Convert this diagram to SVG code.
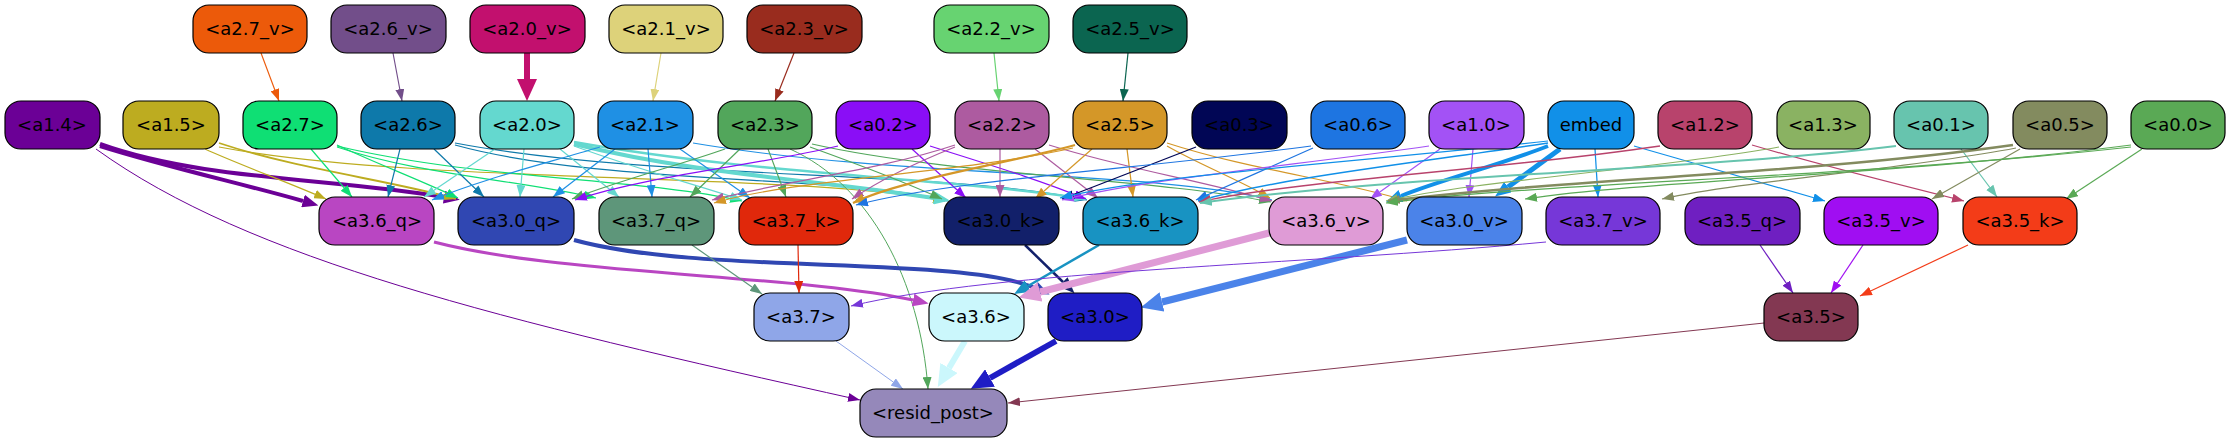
<svg xmlns="http://www.w3.org/2000/svg" width="2233" height="443" viewBox="0 0 2233 443">
<style>
.node rect{stroke:#000;stroke-width:1.2}
.node text{font-family:"DejaVu Sans","Liberation Sans",sans-serif;font-size:18px;fill:#000;text-anchor:middle}
#edges path{fill:none;stroke-width:1.2}
</style>
<defs>
<marker id="t-27v" viewBox="0 0 12 9" refX="12" refY="4.5" markerWidth="12" markerHeight="9" markerUnits="userSpaceOnUse" orient="auto"><path d="M0,0L12,4.5L0,9z" fill="#ec5a0a"/></marker>
<marker id="t-26v" viewBox="0 0 12 9" refX="12" refY="4.5" markerWidth="12" markerHeight="9" markerUnits="userSpaceOnUse" orient="auto"><path d="M0,0L12,4.5L0,9z" fill="#724e8a"/></marker>
<marker id="t-21v" viewBox="0 0 12 9" refX="12" refY="4.5" markerWidth="12" markerHeight="9" markerUnits="userSpaceOnUse" orient="auto"><path d="M0,0L12,4.5L0,9z" fill="#ddd27a"/></marker>
<marker id="t-23v" viewBox="0 0 12 9" refX="12" refY="4.5" markerWidth="12" markerHeight="9" markerUnits="userSpaceOnUse" orient="auto"><path d="M0,0L12,4.5L0,9z" fill="#992c1e"/></marker>
<marker id="t-22v" viewBox="0 0 12 9" refX="12" refY="4.5" markerWidth="12" markerHeight="9" markerUnits="userSpaceOnUse" orient="auto"><path d="M0,0L12,4.5L0,9z" fill="#67d371"/></marker>
<marker id="t-25v" viewBox="0 0 12 9" refX="12" refY="4.5" markerWidth="12" markerHeight="9" markerUnits="userSpaceOnUse" orient="auto"><path d="M0,0L12,4.5L0,9z" fill="#0b6550"/></marker>
<marker id="t-14" viewBox="0 0 12 9" refX="12" refY="4.5" markerWidth="12" markerHeight="9" markerUnits="userSpaceOnUse" orient="auto"><path d="M0,0L12,4.5L0,9z" fill="#6b0096"/></marker>
<marker id="t-15" viewBox="0 0 12 9" refX="12" refY="4.5" markerWidth="12" markerHeight="9" markerUnits="userSpaceOnUse" orient="auto"><path d="M0,0L12,4.5L0,9z" fill="#bdac20"/></marker>
<marker id="t-27" viewBox="0 0 12 9" refX="12" refY="4.5" markerWidth="12" markerHeight="9" markerUnits="userSpaceOnUse" orient="auto"><path d="M0,0L12,4.5L0,9z" fill="#0fdf74"/></marker>
<marker id="t-26" viewBox="0 0 12 9" refX="12" refY="4.5" markerWidth="12" markerHeight="9" markerUnits="userSpaceOnUse" orient="auto"><path d="M0,0L12,4.5L0,9z" fill="#0e79aa"/></marker>
<marker id="t-20" viewBox="0 0 12 9" refX="12" refY="4.5" markerWidth="12" markerHeight="9" markerUnits="userSpaceOnUse" orient="auto"><path d="M0,0L12,4.5L0,9z" fill="#64d8cf"/></marker>
<marker id="t-21" viewBox="0 0 12 9" refX="12" refY="4.5" markerWidth="12" markerHeight="9" markerUnits="userSpaceOnUse" orient="auto"><path d="M0,0L12,4.5L0,9z" fill="#1f90e4"/></marker>
<marker id="t-23" viewBox="0 0 12 9" refX="12" refY="4.5" markerWidth="12" markerHeight="9" markerUnits="userSpaceOnUse" orient="auto"><path d="M0,0L12,4.5L0,9z" fill="#52a65b"/></marker>
<marker id="t-02" viewBox="0 0 12 9" refX="12" refY="4.5" markerWidth="12" markerHeight="9" markerUnits="userSpaceOnUse" orient="auto"><path d="M0,0L12,4.5L0,9z" fill="#8a0ef6"/></marker>
<marker id="t-22" viewBox="0 0 12 9" refX="12" refY="4.5" markerWidth="12" markerHeight="9" markerUnits="userSpaceOnUse" orient="auto"><path d="M0,0L12,4.5L0,9z" fill="#ad5ba0"/></marker>
<marker id="t-25" viewBox="0 0 12 9" refX="12" refY="4.5" markerWidth="12" markerHeight="9" markerUnits="userSpaceOnUse" orient="auto"><path d="M0,0L12,4.5L0,9z" fill="#d49728"/></marker>
<marker id="t-03" viewBox="0 0 12 9" refX="12" refY="4.5" markerWidth="12" markerHeight="9" markerUnits="userSpaceOnUse" orient="auto"><path d="M0,0L12,4.5L0,9z" fill="#010655"/></marker>
<marker id="t-06" viewBox="0 0 12 9" refX="12" refY="4.5" markerWidth="12" markerHeight="9" markerUnits="userSpaceOnUse" orient="auto"><path d="M0,0L12,4.5L0,9z" fill="#1e75e1"/></marker>
<marker id="t-10" viewBox="0 0 12 9" refX="12" refY="4.5" markerWidth="12" markerHeight="9" markerUnits="userSpaceOnUse" orient="auto"><path d="M0,0L12,4.5L0,9z" fill="#a352f5"/></marker>
<marker id="t-emb" viewBox="0 0 12 9" refX="12" refY="4.5" markerWidth="12" markerHeight="9" markerUnits="userSpaceOnUse" orient="auto"><path d="M0,0L12,4.5L0,9z" fill="#1190e8"/></marker>
<marker id="t-12" viewBox="0 0 12 9" refX="12" refY="4.5" markerWidth="12" markerHeight="9" markerUnits="userSpaceOnUse" orient="auto"><path d="M0,0L12,4.5L0,9z" fill="#b8436c"/></marker>
<marker id="t-13" viewBox="0 0 12 9" refX="12" refY="4.5" markerWidth="12" markerHeight="9" markerUnits="userSpaceOnUse" orient="auto"><path d="M0,0L12,4.5L0,9z" fill="#8ab262"/></marker>
<marker id="t-01" viewBox="0 0 12 9" refX="12" refY="4.5" markerWidth="12" markerHeight="9" markerUnits="userSpaceOnUse" orient="auto"><path d="M0,0L12,4.5L0,9z" fill="#67c4ae"/></marker>
<marker id="t-05" viewBox="0 0 12 9" refX="12" refY="4.5" markerWidth="12" markerHeight="9" markerUnits="userSpaceOnUse" orient="auto"><path d="M0,0L12,4.5L0,9z" fill="#838b5f"/></marker>
<marker id="t-00" viewBox="0 0 12 9" refX="12" refY="4.5" markerWidth="12" markerHeight="9" markerUnits="userSpaceOnUse" orient="auto"><path d="M0,0L12,4.5L0,9z" fill="#5aa955"/></marker>
<marker id="t-37q" viewBox="0 0 12 9" refX="12" refY="4.5" markerWidth="12" markerHeight="9" markerUnits="userSpaceOnUse" orient="auto"><path d="M0,0L12,4.5L0,9z" fill="#5e967a"/></marker>
<marker id="t-37k" viewBox="0 0 12 9" refX="12" refY="4.5" markerWidth="12" markerHeight="9" markerUnits="userSpaceOnUse" orient="auto"><path d="M0,0L12,4.5L0,9z" fill="#e0280b"/></marker>
<marker id="t-37v" viewBox="0 0 12 9" refX="12" refY="4.5" markerWidth="12" markerHeight="9" markerUnits="userSpaceOnUse" orient="auto"><path d="M0,0L12,4.5L0,9z" fill="#7637d8"/></marker>
<marker id="t-35q" viewBox="0 0 12 9" refX="12" refY="4.5" markerWidth="12" markerHeight="9" markerUnits="userSpaceOnUse" orient="auto"><path d="M0,0L12,4.5L0,9z" fill="#6f1fc1"/></marker>
<marker id="t-35v" viewBox="0 0 12 9" refX="12" refY="4.5" markerWidth="12" markerHeight="9" markerUnits="userSpaceOnUse" orient="auto"><path d="M0,0L12,4.5L0,9z" fill="#a00ef2"/></marker>
<marker id="t-35k" viewBox="0 0 12 9" refX="12" refY="4.5" markerWidth="12" markerHeight="9" markerUnits="userSpaceOnUse" orient="auto"><path d="M0,0L12,4.5L0,9z" fill="#f33c18"/></marker>
<marker id="t-37" viewBox="0 0 12 9" refX="12" refY="4.5" markerWidth="12" markerHeight="9" markerUnits="userSpaceOnUse" orient="auto"><path d="M0,0L12,4.5L0,9z" fill="#8fa6e8"/></marker>
<marker id="t-35" viewBox="0 0 12 9" refX="12" refY="4.5" markerWidth="12" markerHeight="9" markerUnits="userSpaceOnUse" orient="auto"><path d="M0,0L12,4.5L0,9z" fill="#833852"/></marker>
<marker id="m-14" viewBox="0 0 16 13" refX="0" refY="6.5" markerWidth="16" markerHeight="13" markerUnits="userSpaceOnUse" orient="auto"><path d="M0,0L16,6.5L0,13z" fill="#6b0096"/></marker>
<marker id="m-20" viewBox="0 0 16 13" refX="0" refY="6.5" markerWidth="16" markerHeight="13" markerUnits="userSpaceOnUse" orient="auto"><path d="M0,0L16,6.5L0,13z" fill="#64d8cf"/></marker>
<marker id="m-emb" viewBox="0 0 16 13" refX="0" refY="6.5" markerWidth="16" markerHeight="13" markerUnits="userSpaceOnUse" orient="auto"><path d="M0,0L16,6.5L0,13z" fill="#1190e8"/></marker>
<marker id="m-36q" viewBox="0 0 16 13" refX="0" refY="6.5" markerWidth="16" markerHeight="13" markerUnits="userSpaceOnUse" orient="auto"><path d="M0,0L16,6.5L0,13z" fill="#b946c2"/></marker>
<marker id="m-30q" viewBox="0 0 16 13" refX="0" refY="6.5" markerWidth="16" markerHeight="13" markerUnits="userSpaceOnUse" orient="auto"><path d="M0,0L16,6.5L0,13z" fill="#3047b2"/></marker>
<marker id="m-30k" viewBox="0 0 16 13" refX="0" refY="6.5" markerWidth="16" markerHeight="13" markerUnits="userSpaceOnUse" orient="auto"><path d="M0,0L16,6.5L0,13z" fill="#12206a"/></marker>
<marker id="m-36k" viewBox="0 0 16 13" refX="0" refY="6.5" markerWidth="16" markerHeight="13" markerUnits="userSpaceOnUse" orient="auto"><path d="M0,0L16,6.5L0,13z" fill="#1893c2"/></marker>
<marker id="L-20v" viewBox="0 0 22 20" refX="0" refY="10" markerWidth="22" markerHeight="20" markerUnits="userSpaceOnUse" orient="auto"><path d="M0,0L22,10L0,20z" fill="#c2106e"/></marker>
<marker id="L-36v" viewBox="0 0 22 20" refX="0" refY="10" markerWidth="22" markerHeight="20" markerUnits="userSpaceOnUse" orient="auto"><path d="M0,0L22,10L0,20z" fill="#df9bd6"/></marker>
<marker id="L-30v" viewBox="0 0 22 20" refX="0" refY="10" markerWidth="22" markerHeight="20" markerUnits="userSpaceOnUse" orient="auto"><path d="M0,0L22,10L0,20z" fill="#4b83e9"/></marker>
<marker id="L-36" viewBox="0 0 22 20" refX="0" refY="10" markerWidth="22" markerHeight="20" markerUnits="userSpaceOnUse" orient="auto"><path d="M0,0L22,10L0,20z" fill="#cbf7fc"/></marker>
<marker id="L-30" viewBox="0 0 22 20" refX="0" refY="10" markerWidth="22" markerHeight="20" markerUnits="userSpaceOnUse" orient="auto"><path d="M0,0L22,10L0,20z" fill="#1f1dc5"/></marker>
</defs>
<rect width="2233" height="443" fill="#fff"/>
<g id="edges">
<g stroke="#ec5a0a"><path d="M261,53 L279,101" marker-end="url(#t-27v)"/></g>
<g stroke="#724e8a"><path d="M393,53 L402,101" marker-end="url(#t-26v)"/></g>
<g stroke="#c2106e"><path d="M527,53 L527,79" style="stroke-width:6" marker-end="url(#L-20v)"/></g>
<g stroke="#ddd27a"><path d="M661,53 L653,101" marker-end="url(#t-21v)"/></g>
<g stroke="#992c1e"><path d="M794,53 L775,101" marker-end="url(#t-23v)"/></g>
<g stroke="#67d371"><path d="M994,53 L999,101" marker-end="url(#t-22v)"/></g>
<g stroke="#0b6550"><path d="M1128,53 L1123,101" marker-end="url(#t-25v)"/></g>
<g stroke="#6b0096">
<path d="M100,146 C170,168 240,183 303,201" style="stroke-width:4" marker-end="url(#m-14)"/>
<path d="M100,144 C200,180 330,178 444,197" style="stroke-width:4" marker-end="url(#m-14)"/>
<path d="M96,149 C250,260 500,320 860,400" style="stroke-width:1" marker-end="url(#t-14)"/>
</g>
<g stroke="#bdac20">
<path d="M205,149 C240,165 290,183 326,199" marker-end="url(#t-15)"/>
<path d="M219,143 C300,170 390,180 456,199" style="stroke-width:1.8" marker-end="url(#t-15)"/>
<path d="M219,147 C420,185 800,172 945,201" marker-end="url(#t-15)"/>
</g>
<g stroke="#0fdf74">
<path d="M311,149 L352,197" marker-end="url(#t-27)"/>
<path d="M337,145 C380,165 420,180 458,198" marker-end="url(#t-27)"/>
<path d="M337,147 C420,175 520,180 596,198" marker-end="url(#t-27)"/>
<path d="M337,146 C480,180 640,178 742,201" marker-end="url(#t-27)"/>
</g>
<g stroke="#0e79aa">
<path d="M400,149 L388,197" marker-end="url(#t-26)"/>
<path d="M434,149 L484,197" marker-end="url(#t-26)"/>
<path d="M455,145 C600,185 850,175 948,201" marker-end="url(#t-26)"/>
<path d="M455,143 C650,180 950,170 1087,200" marker-end="url(#t-26)"/>
</g>
<g stroke="#64d8cf">
<path d="M495,149 L424,197" marker-end="url(#t-20)"/>
<path d="M524,149 L520,197" marker-end="url(#t-20)"/>
<path d="M560,149 L619,197" marker-end="url(#t-20)"/>
<path d="M574,146 C640,170 690,183 742,200" marker-end="url(#t-20)"/>
<path d="M574,144 C700,175 820,180 934,198" style="stroke-width:4" marker-end="url(#m-20)"/>
<path d="M574,142 C760,175 950,178 1086,199" style="stroke-width:2.5" marker-end="url(#t-20)"/>
</g>
<g stroke="#1f90e4">
<path d="M600,147 C540,165 480,180 432,200" marker-end="url(#t-21)"/>
<path d="M615,149 L553,197" marker-end="url(#t-21)"/>
<path d="M648,149 L652,197" marker-end="url(#t-21)"/>
<path d="M680,149 L750,198" marker-end="url(#t-21)"/>
<path d="M693,143 C900,178 1150,170 1272,200" marker-end="url(#t-21)"/>
</g>
<g stroke="#52a65b">
<path d="M740,149 L690,197" marker-end="url(#t-23)"/>
<path d="M768,149 L786,197" marker-end="url(#t-23)"/>
<path d="M725,149 C680,165 620,180 572,199" marker-end="url(#t-23)"/>
<path d="M810,147 C860,165 900,180 942,199" marker-end="url(#t-23)"/>
<path d="M790,149 C870,185 920,280 928,389" style="stroke-width:1" marker-end="url(#t-23)"/>
<path d="M812,144 C950,175 1150,178 1271,202" marker-end="url(#t-23)"/>
</g>
<g stroke="#8a0ef6">
<path d="M912,149 L966,198" marker-end="url(#t-02)"/>
<path d="M838,146 C760,165 650,175 575,200" marker-end="url(#t-02)"/>
<path d="M930,146 C990,165 1040,180 1086,199" marker-end="url(#t-02)"/>
</g>
<g stroke="#ad5ba0">
<path d="M1000,149 L1000,197" marker-end="url(#t-22)"/>
<path d="M955,147 C910,165 880,180 852,199" marker-end="url(#t-22)"/>
<path d="M955,145 C880,170 790,180 712,200" marker-end="url(#t-22)"/>
<path d="M1035,149 L1098,198" marker-end="url(#t-22)"/>
<path d="M1049,145 C1130,170 1200,180 1272,201" marker-end="url(#t-22)"/>
</g>
<g stroke="#d49728">
<path d="M1092,149 L1035,199" marker-end="url(#t-25)"/>
<path d="M1127,149 L1133,197" marker-end="url(#t-25)"/>
<path d="M1075,145 C1000,165 900,180 853,203" style="stroke-width:2.2" marker-end="url(#t-25)"/>
<path d="M1073,148 C950,175 800,178 714,203" marker-end="url(#t-25)"/>
<path d="M1167,146 C1200,165 1240,180 1270,198" marker-end="url(#t-25)"/>
<path d="M1167,143 C1250,170 1340,180 1407,201" marker-end="url(#t-25)"/>
</g>
<g stroke="#010655"><path d="M1196,147 L1062,199" style="stroke-width:1.3" marker-end="url(#t-03)"/></g>
<g stroke="#1e75e1">
<path d="M1313,148 L1196,200" marker-end="url(#t-06)"/>
<path d="M1311,146 C1150,168 950,180 856,205" marker-end="url(#t-06)"/>
</g>
<g stroke="#a352f5">
<path d="M1440,149 L1370,199" marker-end="url(#t-10)"/>
<path d="M1473,149 L1469,197" marker-end="url(#t-10)"/>
<path d="M1429,146 C1300,165 1150,178 1062,200" marker-end="url(#t-10)"/>
</g>
<g stroke="#1190e8">
<path d="M1548,146 C1500,165 1440,180 1401,196" style="stroke-width:4" marker-end="url(#m-emb)"/>
<path d="M1560,149 L1508,187" style="stroke-width:5" marker-end="url(#m-emb)"/>
<path d="M1595,149 L1598,197" marker-end="url(#t-emb)"/>
<path d="M1634,146 C1700,165 1770,185 1825,201" marker-end="url(#t-emb)"/>
<path d="M1548,143 C1400,165 1280,178 1198,201" style="stroke-width:1.5" marker-end="url(#t-emb)"/>
<path d="M1548,141 C1350,163 1150,175 1060,198" marker-end="url(#t-emb)"/>
</g>
<g stroke="#b8436c">
<path d="M1752,145 C1820,165 1900,185 1964,201" marker-end="url(#t-12)"/>
<path d="M1660,146 C1500,170 1300,180 1199,202" style="stroke-width:1.5" marker-end="url(#t-12)"/>
</g>
<g stroke="#8ab262"><path d="M1779,147 C1650,170 1480,180 1386,201" marker-end="url(#t-13)"/></g>
<g stroke="#67c4ae">
<path d="M1961,149 L1997,197" marker-end="url(#t-01)"/>
<path d="M1896,146 C1700,170 1400,175 1200,203" style="stroke-width:2" marker-end="url(#t-01)"/>
</g>
<g stroke="#838b5f">
<path d="M2016,148 C1900,170 1750,180 1662,199" marker-end="url(#t-05)"/>
<path d="M2020,149 L1932,199" marker-end="url(#t-05)"/>
<path d="M2013,145 C1800,175 1550,180 1388,201" style="stroke-width:2.5" marker-end="url(#t-05)"/>
</g>
<g stroke="#5aa955">
<path d="M2142,149 L2066,199" marker-end="url(#t-00)"/>
<path d="M2131,145 C1900,175 1650,180 1525,199" marker-end="url(#t-00)"/>
<path d="M2131,147 C1850,178 1550,182 1386,203" marker-end="url(#t-00)"/>
</g>
<g stroke="#b946c2"><path d="M434,242 C560,275 800,275 913,300" style="stroke-width:3" marker-end="url(#m-36q)"/></g>
<g stroke="#3047b2"><path d="M574,240 C700,275 960,255 1035,288" style="stroke-width:4" marker-end="url(#m-30q)"/></g>
<g stroke="#5e967a"><path d="M692,245 L762,294" marker-end="url(#t-37q)"/></g>
<g stroke="#e0280b"><path d="M798,245 L799,293" marker-end="url(#t-37k)"/></g>
<g stroke="#12206a"><path d="M1025,245 L1063,282" style="stroke-width:2.5" marker-end="url(#m-30k)"/></g>
<g stroke="#1893c2"><path d="M1099,245 L1028,286" style="stroke-width:2.5" marker-end="url(#m-36k)"/></g>
<g stroke="#df9bd6"><path d="M1269,233 L1040,292" style="stroke-width:7" marker-end="url(#L-36v)"/></g>
<g stroke="#4b83e9"><path d="M1407,240 L1162,302" style="stroke-width:7" marker-end="url(#L-30v)"/></g>
<g stroke="#7637d8"><path d="M1546,242 C1300,265 1000,270 851,306" style="stroke-width:1" marker-end="url(#t-37v)"/></g>
<g stroke="#6f1fc1"><path d="M1760,245 L1793,293" marker-end="url(#t-35q)"/></g>
<g stroke="#a00ef2"><path d="M1863,245 L1831,293" marker-end="url(#t-35v)"/></g>
<g stroke="#f33c18"><path d="M1968,245 L1860,296" marker-end="url(#t-35k)"/></g>
<g stroke="#8fa6e8"><path d="M836,341 L903,389" style="stroke-width:1" marker-end="url(#t-37)"/></g>
<g stroke="#cbf7fc"><path d="M965,341 L949,368" style="stroke-width:6" marker-end="url(#L-36)"/></g>
<g stroke="#1f1dc5"><path d="M1056,341 L990,378" style="stroke-width:6" marker-end="url(#L-30)"/></g>
<g stroke="#833852"><path d="M1764,323 L1008,403" style="stroke-width:1" marker-end="url(#t-35)"/></g>
</g>
<g id="n-a2_7_v" class="node"><rect x="193" y="5" width="114" height="48" rx="16" fill="#ec5a0a"/><text x="250" y="35">&lt;a2.7_v&gt;</text></g>
<g id="n-a2_6_v" class="node"><rect x="331" y="5" width="115" height="48" rx="16" fill="#724e8a"/><text x="388" y="35">&lt;a2.6_v&gt;</text></g>
<g id="n-a2_0_v" class="node"><rect x="470" y="5" width="115" height="48" rx="16" fill="#c2106e"/><text x="527" y="35">&lt;a2.0_v&gt;</text></g>
<g id="n-a2_1_v" class="node"><rect x="609" y="5" width="114" height="48" rx="16" fill="#ddd27a"/><text x="666" y="35">&lt;a2.1_v&gt;</text></g>
<g id="n-a2_3_v" class="node"><rect x="747" y="5" width="115" height="48" rx="16" fill="#992c1e"/><text x="804" y="35">&lt;a2.3_v&gt;</text></g>
<g id="n-a2_2_v" class="node"><rect x="934" y="5" width="115" height="48" rx="16" fill="#67d371"/><text x="991" y="35">&lt;a2.2_v&gt;</text></g>
<g id="n-a2_5_v" class="node"><rect x="1073" y="5" width="114" height="48" rx="16" fill="#0b6550"/><text x="1130" y="35">&lt;a2.5_v&gt;</text></g>
<g id="n-a1_4" class="node"><rect x="5" y="101" width="95" height="48" rx="16" fill="#6b0096"/><text x="52" y="131">&lt;a1.4&gt;</text></g>
<g id="n-a1_5" class="node"><rect x="123" y="101" width="96" height="48" rx="16" fill="#bdac20"/><text x="171" y="131">&lt;a1.5&gt;</text></g>
<g id="n-a2_7" class="node"><rect x="243" y="101" width="94" height="48" rx="16" fill="#0fdf74"/><text x="290" y="131">&lt;a2.7&gt;</text></g>
<g id="n-a2_6" class="node"><rect x="361" y="101" width="94" height="48" rx="16" fill="#0e79aa"/><text x="408" y="131">&lt;a2.6&gt;</text></g>
<g id="n-a2_0" class="node"><rect x="480" y="101" width="94" height="48" rx="16" fill="#64d8cf"/><text x="527" y="131">&lt;a2.0&gt;</text></g>
<g id="n-a2_1" class="node"><rect x="598" y="101" width="95" height="48" rx="16" fill="#1f90e4"/><text x="645" y="131">&lt;a2.1&gt;</text></g>
<g id="n-a2_3" class="node"><rect x="718" y="101" width="94" height="48" rx="16" fill="#52a65b"/><text x="765" y="131">&lt;a2.3&gt;</text></g>
<g id="n-a0_2" class="node"><rect x="836" y="101" width="94" height="48" rx="16" fill="#8a0ef6"/><text x="883" y="131">&lt;a0.2&gt;</text></g>
<g id="n-a2_2" class="node"><rect x="955" y="101" width="94" height="48" rx="16" fill="#ad5ba0"/><text x="1002" y="131">&lt;a2.2&gt;</text></g>
<g id="n-a2_5" class="node"><rect x="1073" y="101" width="94" height="48" rx="16" fill="#d49728"/><text x="1120" y="131">&lt;a2.5&gt;</text></g>
<g id="n-a0_3" class="node"><rect x="1192" y="101" width="95" height="48" rx="16" fill="#010655"/><text x="1239" y="131">&lt;a0.3&gt;</text></g>
<g id="n-a0_6" class="node"><rect x="1311" y="101" width="94" height="48" rx="16" fill="#1e75e1"/><text x="1358" y="131">&lt;a0.6&gt;</text></g>
<g id="n-a1_0" class="node"><rect x="1429" y="101" width="95" height="48" rx="16" fill="#a352f5"/><text x="1476" y="131">&lt;a1.0&gt;</text></g>
<g id="n-embed" class="node"><rect x="1548" y="101" width="86" height="48" rx="16" fill="#1190e8"/><text x="1591" y="131">embed</text></g>
<g id="n-a1_2" class="node"><rect x="1658" y="101" width="94" height="48" rx="16" fill="#b8436c"/><text x="1705" y="131">&lt;a1.2&gt;</text></g>
<g id="n-a1_3" class="node"><rect x="1777" y="101" width="93" height="48" rx="16" fill="#8ab262"/><text x="1823" y="131">&lt;a1.3&gt;</text></g>
<g id="n-a0_1" class="node"><rect x="1894" y="101" width="94" height="48" rx="16" fill="#67c4ae"/><text x="1941" y="131">&lt;a0.1&gt;</text></g>
<g id="n-a0_5" class="node"><rect x="2013" y="101" width="94" height="48" rx="16" fill="#838b5f"/><text x="2060" y="131">&lt;a0.5&gt;</text></g>
<g id="n-a0_0" class="node"><rect x="2131" y="101" width="94" height="48" rx="16" fill="#5aa955"/><text x="2178" y="131">&lt;a0.0&gt;</text></g>
<g id="n-a3_6_q" class="node"><rect x="319" y="197" width="115" height="48" rx="16" fill="#b946c2"/><text x="377" y="227">&lt;a3.6_q&gt;</text></g>
<g id="n-a3_0_q" class="node"><rect x="458" y="197" width="116" height="48" rx="16" fill="#3047b2"/><text x="516" y="227">&lt;a3.0_q&gt;</text></g>
<g id="n-a3_7_q" class="node"><rect x="599" y="197" width="115" height="48" rx="16" fill="#5e967a"/><text x="656" y="227">&lt;a3.7_q&gt;</text></g>
<g id="n-a3_7_k" class="node"><rect x="739" y="197" width="114" height="48" rx="16" fill="#e0280b"/><text x="796" y="227">&lt;a3.7_k&gt;</text></g>
<g id="n-a3_0_k" class="node"><rect x="944" y="197" width="115" height="48" rx="16" fill="#12206a"/><text x="1001" y="227">&lt;a3.0_k&gt;</text></g>
<g id="n-a3_6_k" class="node"><rect x="1083" y="197" width="115" height="48" rx="16" fill="#1893c2"/><text x="1140" y="227">&lt;a3.6_k&gt;</text></g>
<g id="n-a3_6_v" class="node"><rect x="1269" y="197" width="114" height="48" rx="16" fill="#df9bd6"/><text x="1326" y="227">&lt;a3.6_v&gt;</text></g>
<g id="n-a3_0_v" class="node"><rect x="1407" y="197" width="115" height="48" rx="16" fill="#4b83e9"/><text x="1464" y="227">&lt;a3.0_v&gt;</text></g>
<g id="n-a3_7_v" class="node"><rect x="1546" y="197" width="114" height="48" rx="16" fill="#7637d8"/><text x="1603" y="227">&lt;a3.7_v&gt;</text></g>
<g id="n-a3_5_q" class="node"><rect x="1685" y="197" width="115" height="48" rx="16" fill="#6f1fc1"/><text x="1742" y="227">&lt;a3.5_q&gt;</text></g>
<g id="n-a3_5_v" class="node"><rect x="1824" y="197" width="114" height="48" rx="16" fill="#a00ef2"/><text x="1881" y="227">&lt;a3.5_v&gt;</text></g>
<g id="n-a3_5_k" class="node"><rect x="1963" y="197" width="114" height="48" rx="16" fill="#f33c18"/><text x="2020" y="227">&lt;a3.5_k&gt;</text></g>
<g id="n-a3_7" class="node"><rect x="754" y="293" width="95" height="48" rx="16" fill="#8fa6e8"/><text x="801" y="323">&lt;a3.7&gt;</text></g>
<g id="n-a3_6" class="node"><rect x="929" y="293" width="95" height="48" rx="16" fill="#cbf7fc"/><text x="976" y="323">&lt;a3.6&gt;</text></g>
<g id="n-a3_0" class="node"><rect x="1048" y="293" width="94" height="48" rx="16" fill="#1f1dc5"/><text x="1095" y="323">&lt;a3.0&gt;</text></g>
<g id="n-a3_5" class="node"><rect x="1764" y="293" width="94" height="48" rx="16" fill="#833852"/><text x="1811" y="323">&lt;a3.5&gt;</text></g>
<g id="n-resid_post" class="node"><rect x="860" y="389" width="147" height="48" rx="16" fill="#9588ba"/><text x="933" y="419">&lt;resid_post&gt;</text></g>
</svg>
